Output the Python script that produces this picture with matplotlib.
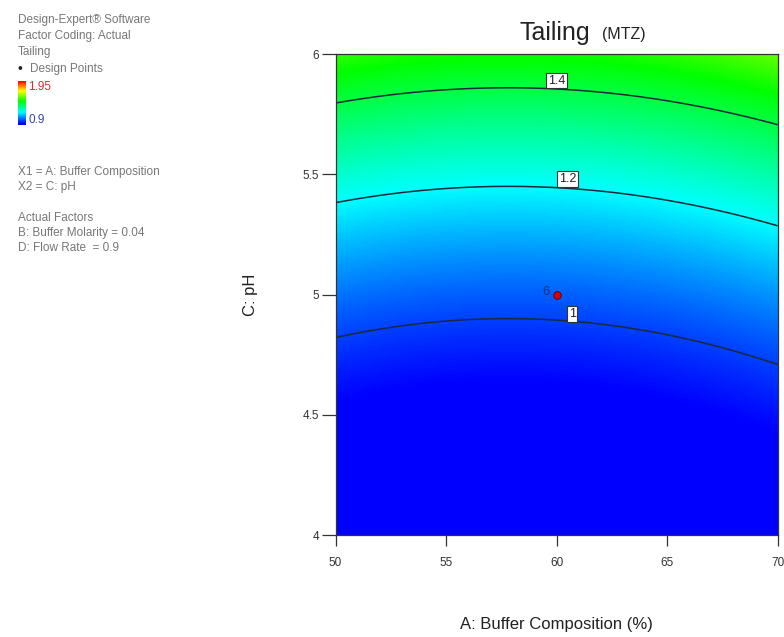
"""Tailing (MTZ) response surface: contour plot of buffer composition vs pH."""

import matplotlib.pyplot as plt
import numpy as np
from matplotlib.colors import LinearSegmentedColormap

plt.rcParams["font.family"] = ["Liberation Sans", "DejaVu Sans"]

# model for tailing: c0 + c1*u + c2*u^2 + (k0 + k1*u)*(A - a0)^2, with u = pH - 5
ph_coef = [1.0305, 0.3184, 0.1293]
a_centre = 57.8
a_curv = [0.000400, 0.000194]

contour_levels = [1.0, 1.2, 1.4]
label_pos = [(60.7, 4.92), (60.5, 5.48), (60.0, 5.89)]
design_a = [60]
design_ph = [5.0]
design_count = ["6"]

x_ticks = [50, 55, 60, 65, 70]
y_ticks = [4, 4.5, 5, 5.5, 6]
color_min, color_max = 0.9, 1.95
# colour stops (response value -> colour) of the Design-Expert style ramp
stop_vals = [0.9, 0.93, 1.2, 1.47, 1.72, 1.95]
stop_cols = ["#0000ff", "#0000ff", "#00ffff", "#00ff00", "#ffff00", "#ff0000"]


def tailing(a, ph):
    u = ph - 5.0
    k = a_curv[0] + a_curv[1] * u
    return ph_coef[0] + ph_coef[1] * u + ph_coef[2] * u ** 2 + k * (a - a_centre) ** 2


de_cmap = LinearSegmentedColormap.from_list(
    "de", [((v - color_min) / (color_max - color_min), c)
           for v, c in zip(stop_vals, stop_cols)])

a = np.linspace(50, 70, 300)
p = np.linspace(4, 6, 300)
A, P = np.meshgrid(a, p)
Z = tailing(A, P)

fig = plt.figure(figsize=(7.84, 6.37), dpi=100)
ax = fig.add_axes([0.428, 0.16, 0.564, 0.755])

ax.imshow(Z, extent=[50, 70, 4, 6], origin="lower", aspect="auto",
          cmap=de_cmap, vmin=color_min, vmax=color_max, interpolation="bilinear")
ax.contour(A, P, Z, levels=contour_levels, colors="#1a2a3a", linewidths=1.1)

for lev, (lx, ly) in zip(contour_levels, label_pos):
    ax.text(lx, ly, f"{lev:g}", ha="center", va="center", fontsize=9, color="#222222",
            bbox=dict(boxstyle="square,pad=0.15", fc="white", ec="#333333", lw=0.8))

ax.scatter(design_a, design_ph, s=30, color="#dd0000", edgecolors="#550000",
           linewidths=0.6, zorder=5)
for da, dp, n in zip(design_a, design_ph, design_count):
    ax.text(da - 0.3, dp + 0.01, n, ha="right", va="center", fontsize=9.5,
            color="#22347a")

ax.set_xlim(50, 70)
ax.set_ylim(4, 6)
ax.set_xticks(x_ticks)
ax.set_yticks(y_ticks)
ax.set_yticklabels([f"{t:g}" for t in y_ticks])
ax.tick_params(direction="out", length=10, width=0.9, labelsize=8.5,
               colors="#333333", pad=2)
ax.tick_params(axis="x", length=8, pad=8)
for s in ax.spines.values():
    s.set_color("#333333")
    s.set_linewidth(0.9)

ax.set_xlabel("A: Buffer Composition (%)", fontsize=12, labelpad=34, color="#222222")
ax.set_ylabel("C: pH", fontsize=12, labelpad=32, color="#222222")

fig.text(0.753, 0.948, "Tailing", fontsize=18, color="#222222", ha="right", va="center")
fig.text(0.796, 0.946, "(MTZ)", fontsize=11.5, color="#222222", ha="center", va="center")

# legend block at top left
grey = "#777777"
fs = 8.5
info_lines = [
    (0.023, 0.969, "Design-Expert® Software"),
    (0.023, 0.943, "Factor Coding: Actual"),
    (0.023, 0.918, "Tailing"),
]
for x, y, s in info_lines:
    fig.text(x, y, s, fontsize=fs, color=grey, va="center")
fig.text(0.022, 0.892, "•", fontsize=10, color="#222222", va="center")
fig.text(0.038, 0.892, "Design Points", fontsize=fs, color=grey, va="center")

cax = fig.add_axes([0.023, 0.804, 0.009, 0.069])
cax.imshow(np.linspace(color_min, color_max, 100)[:, None], origin="lower",
           aspect="auto", cmap=de_cmap, vmin=color_min, vmax=color_max,
           extent=[0, 1, color_min, color_max])
cax.set_axis_off()
fig.text(0.036, 0.864, f"{color_max:g}", fontsize=fs, color="#cc3333", va="center")
fig.text(0.036, 0.812, f"{color_min:g}", fontsize=fs, color="#3344aa", va="center")

more_lines = [
    (0.023, 0.730, "X1 = A: Buffer Composition"),
    (0.023, 0.706, "X2 = C: pH"),
    (0.023, 0.658, "Actual Factors"),
    (0.023, 0.634, "B: Buffer Molarity = 0.04"),
    (0.023, 0.611, "D: Flow Rate  = 0.9"),
]
for x, y, s in more_lines:
    fig.text(x, y, s, fontsize=fs, color=grey, va="center")

fig.savefig("out.png", dpi=100)
